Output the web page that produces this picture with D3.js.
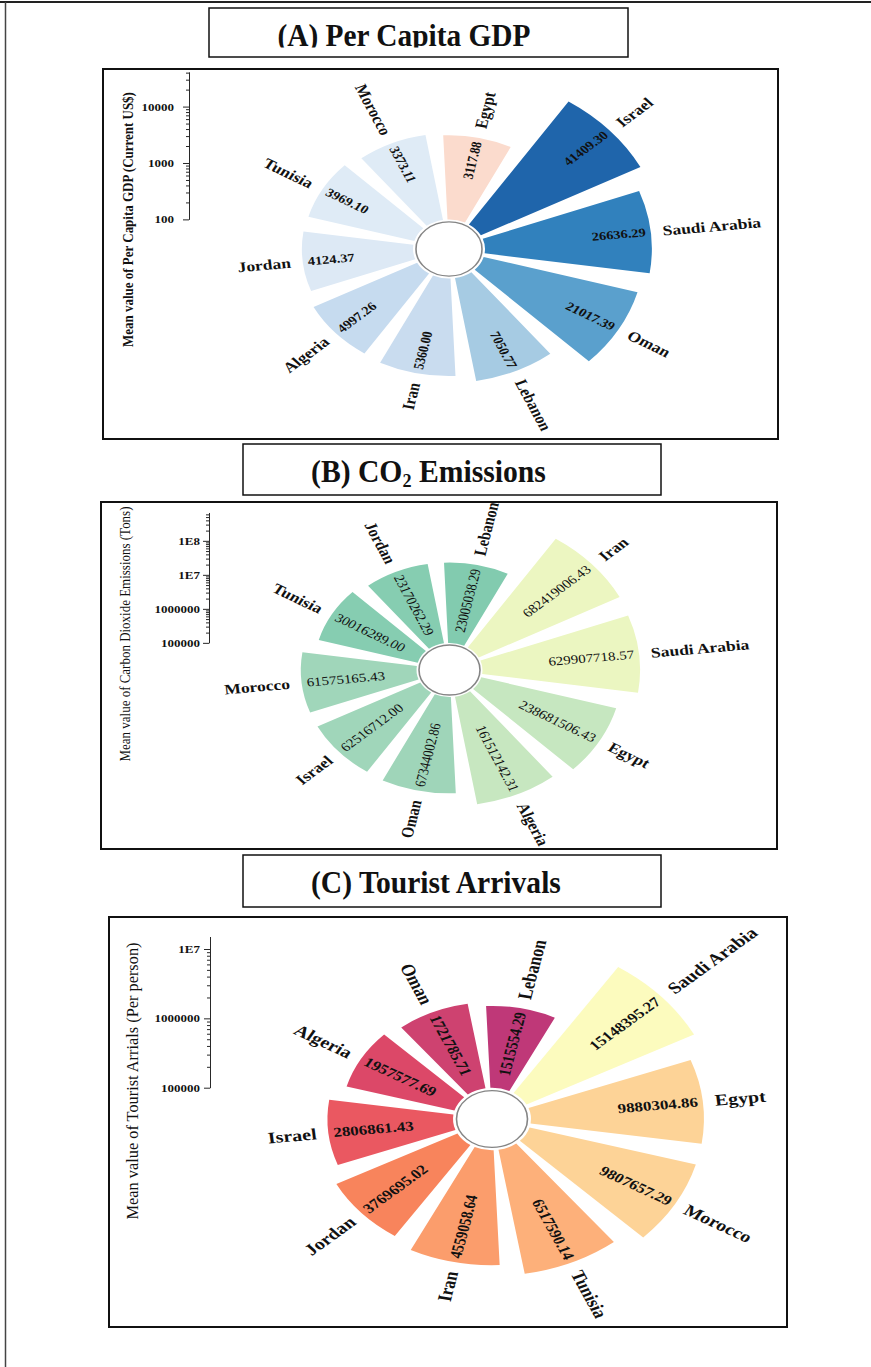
<!DOCTYPE html>
<html>
<head>
<meta charset="utf-8">
<script src="https://cdn.jsdelivr.net/npm/d3@7"></script>
<style>
  body { margin: 0; background: #fff; }
  svg { display: block; }
  text { font-family: "Liberation Serif", "Times New Roman", serif; fill: #111; }
</style>
</head>
<body>
<div id="chart"></div>
<script>
// ---- data ----
const gdpCountries = ["Israel", "Saudi Arabia", "Oman", "Lebanon", "Iran", "Algeria", "Jordan", "Tunisia", "Morocco", "Egypt"];
const gdpValues = [41409.30, 26636.29, 21017.39, 7050.77, 5360.00, 4997.26, 4124.37, 3969.10, 3373.11, 3117.88];
const gdpTicks = [100, 1000, 10000];
const gdpTickLabels = ["100", "1000", "10000"];

const co2Countries = ["Iran", "Saudi Arabia", "Egypt", "Algeria", "Oman", "Israel", "Morocco", "Tunisia", "Jordan", "Lebanon"];
const co2Values = [682419006.43, 629907718.57, 238681506.43, 161512142.31, 67344002.86, 62516712.00, 61575165.43, 30016289.00, 23170262.29, 23005038.29];
const co2Ticks = [1e5, 1e6, 1e7, 1e8];
const co2TickLabels = ["100000", "1000000", "1E7", "1E8"];

const touristCountries = ["Saudi Arabia", "Egypt", "Morocco", "Tunisia", "Iran", "Jordan", "Israel", "Algeria", "Oman", "Lebanon"];
const touristValues = [15148395.27, 9880304.86, 9807657.29, 6517590.14, 4559058.64, 3769695.02, 2806861.43, 1957577.69, 1721785.71, 1515554.29];
const touristTicks = [1e5, 1e6, 1e7];
const touristTickLabels = ["100000", "1000000", "1E7"];

// palettes, one colour per bar in the order above
const gdpColors = ["#1f65ab", "#3181bd", "#5aa0cd", "#a6cbe3", "#c9dcef", "#c6dbef", "#dde9f5", "#dfebf6", "#dfebf6", "#fbdbcd"];
const co2Colors = ["#ecf6c1", "#ebf6c1", "#c6e7c0", "#c7e7c0", "#9fd5b9", "#a0d6ba", "#a0d6ba", "#86cdb1", "#86cdb1", "#82cbaf"];
const touristColors = ["#fcfbbe", "#fdd397", "#fdd397", "#fdb07a", "#fb9d6c", "#f8845c", "#ea5861", "#dc4868", "#ce4270", "#bf3878"];

const W = 871, H = 1367;
const fmt = d3.format(".2f");

const svg = d3.select("#chart").append("svg")
    .attr("width", W)
    .attr("height", H);

// page frame (top + left rule)
svg.append("line").attr("x1", 0).attr("x2", W).attr("y1", 2).attr("y2", 2)
    .attr("stroke", "#222").attr("stroke-width", 2);
svg.append("line").attr("x1", 5.5).attr("x2", 5.5).attr("y1", 2).attr("y2", H)
    .attr("stroke", "#444").attr("stroke-width", 1.5);

// squeeze a text horizontally so it spans the wanted width
function fitText(sel, width) {
    let len = sel.node().getComputedTextLength();
    return width / len;
}

const panels = [
    {
        key: "A", title: ["(A) Per Capita GDP"],
        countries: gdpCountries, values: gdpValues, colors: gdpColors,
        ticks: gdpTicks, tickLabels: gdpTickLabels, axisMin: 100,
        yLabel: "Mean value of Per Capita GDP (Current US$)", yLabelWeight: "bold", yLabelSize: 14,
        cx: 449, cy: 249, sy: 0.82, inner: 36, outer: 216, hole: 33,
        axisX: 189, tickPad: 9,
        yLabelX: 128, yLabelY: 219.5, yLabelLen: 255,
        titleBox: [209, 8, 419, 49], titleX: 277.5, titleY: 46, titleW: 253, titleClip: 47.5,
        box: [103, 69, 675, 370],
        labelSize: 17.5, valueSize: 14.5, valueWeight: "bold"
    },
    {
        key: "B", title: ["(B) CO", "2", " Emissions"],
        countries: co2Countries, values: co2Values, colors: co2Colors,
        ticks: co2Ticks, tickLabels: co2TickLabels, axisMin: 1e5,
        yLabel: "Mean value of Carbon Dioxide Emissions (Tons)", yLabelWeight: "normal", yLabelSize: 15,
        cx: 449.5, cy: 670, sy: 0.82, inner: 33, outer: 192, hole: 30.5,
        axisX: 209, tickPad: 3,
        yLabelX: 125, yLabelY: 634, yLabelLen: 255,
        titleBox: [243, 444, 418, 51], titleX: 311, titleY: 482, titleW: 235, titleClip: null,
        box: [101, 502, 676, 347],
        labelSize: 17.5, valueSize: 15, valueWeight: "normal"
    },
    {
        key: "C", title: ["(C) Tourist Arrivals"],
        countries: touristCountries, values: touristValues, colors: touristColors,
        ticks: touristTicks, tickLabels: touristTickLabels, axisMin: 1e5,
        yLabel: "Mean value of Tourist Arrials (Per person)", yLabelWeight: "normal", yLabelSize: 17,
        cx: 492, cy: 1119, sy: 0.8, inner: 39, outer: 228, hole: 35.5,
        axisX: 210, tickPad: 4,
        yLabelX: 133, yLabelY: 1081, yLabelLen: 277,
        titleBox: [243, 855, 418, 52], titleX: 311, titleY: 893, titleW: 250, titleClip: null,
        box: [109, 917, 678, 410],
        labelSize: 20, valueSize: 17, valueWeight: "bold"
    }
];

panels.forEach(p => drawPanel(p));

function drawPanel(p) {

    // title box
    svg.append("rect")
        .attr("x", p.titleBox[0]).attr("y", p.titleBox[1])
        .attr("width", p.titleBox[2]).attr("height", p.titleBox[3])
        .attr("fill", "none").attr("stroke", "#111").attr("stroke-width", 1.5);

    let titleG = svg.append("g");
    if (p.titleClip) {
        svg.append("clipPath").attr("id", "clip" + p.key)
            .append("rect").attr("x", 0).attr("y", 0).attr("width", W).attr("height", p.titleClip);
        titleG.attr("clip-path", `url(#clip${p.key})`);
    }
    let title = titleG.append("text")
        .attr("font-size", 31)
        .attr("font-weight", "bold");
    title.append("tspan").text(p.title[0]);
    if (p.title.length > 1) {
        title.append("tspan").attr("font-size", 19).attr("dy", 5).text(p.title[1]);
        title.append("tspan").attr("dy", -5).text(p.title[2]);
    }
    let k = fitText(title, p.titleW);
    title.attr("transform", `translate(${p.titleX},${p.titleY}) scale(${k},1)`);

    // panel box
    svg.append("rect")
        .attr("x", p.box[0]).attr("y", p.box[1])
        .attr("width", p.box[2]).attr("height", p.box[3])
        .attr("fill", "none").attr("stroke", "#111").attr("stroke-width", 2);

    // chart group: the figure is stretched, so flatten it vertically
    let g = svg.append("g")
        .attr("transform", `translate(${p.cx},${p.cy}) scale(1,${p.sy})`);

    let data = p.countries.map((c, i) => ({country: c, value: p.values[i], color: p.colors[i]}));

    let angle = d3.scaleBand()
        .domain(p.countries)
        .range([30 * Math.PI / 180, 390 * Math.PI / 180])
        .paddingInner(0.2)
        .paddingOuter(0.1);

    let radius = d3.scaleLog()
        .domain([p.axisMin, d3.max(p.values)])
        .range([p.inner, p.outer]);

    let arc = d3.arc()
        .innerRadius(p.inner)
        .outerRadius(d => radius(d.value))
        .startAngle(d => angle(d.country))
        .endAngle(d => angle(d.country) + angle.bandwidth());

    g.selectAll(".bar")
        .data(data)
        .enter()
        .append("path")
        .attr("class", "bar")
        .attr("d", arc)
        .attr("fill", d => d.color);

    // centre hole
    g.append("circle")
        .attr("r", p.hole)
        .attr("fill", "#fff")
        .attr("stroke", "#858585")
        .attr("stroke-width", 1.6);

    function mid(d) {
        let a = angle(d.country) + angle.bandwidth() / 2;
        return (a * 180 / Math.PI) % 360;
    }

    // value labels, inside the bar end
    g.selectAll(".val")
        .data(data)
        .enter()
        .append("text")
        .attr("class", "val")
        .attr("font-size", p.valueSize)
        .attr("font-weight", p.valueWeight)
        .attr("dy", "0.35em")
        .attr("text-anchor", d => mid(d) > 180 ? "start" : "end")
        .attr("transform", d => {
            let a = mid(d), r = radius(d.value) - 5;
            let x = r * Math.sin(a * Math.PI / 180), y = -r * Math.cos(a * Math.PI / 180);
            let rot = a > 180 ? a + 90 : a - 90;
            return `translate(${x},${y}) rotate(${rot})`;
        })
        .text(d => fmt(d.value));

    // country labels, outside the bar end
    g.selectAll(".lab")
        .data(data)
        .enter()
        .append("text")
        .attr("class", "lab")
        .attr("font-size", p.labelSize)
        .attr("font-weight", "bold")
        .attr("dy", "0.35em")
        .attr("text-anchor", d => mid(d) > 180 ? "end" : "start")
        .attr("transform", d => {
            let a = mid(d), r = radius(d.value) + 12;
            let x = r * Math.sin(a * Math.PI / 180), y = -r * Math.cos(a * Math.PI / 180);
            let rot = a > 180 ? a + 90 : a - 90;
            return `translate(${x},${y}) rotate(${rot})`;
        })
        .text(d => d.country);

    // radial axis drawn upright at the left
    let axisScale = d3.scaleLog()
        .domain(radius.domain())
        .range([-p.inner, -p.outer]);

    let minors = [];
    for (let dec = p.axisMin; dec <= d3.max(p.values); dec *= 10) {
        for (let m = 2; m <= 9; m++) {
            if (dec * m <= d3.max(p.values)) minors.push(dec * m);
        }
    }

    let axG = g.append("g")
        .attr("transform", `translate(${p.axisX - p.cx},0)`);

    axG.append("g")
        .call(d3.axisLeft(axisScale).tickValues(minors).tickSize(3).tickSizeOuter(0).tickFormat(""))
        .call(s => s.select(".domain").remove());

    axG.append("g")
        .call(d3.axisLeft(axisScale)
            .tickValues(p.ticks)
            .tickFormat((d, i) => p.tickLabels[i])
            .tickSize(6)
            .tickSizeOuter(0)
            .tickPadding(p.tickPad))
        .call(s => s.selectAll("text")
            .attr("font-family", "Liberation Serif, Times New Roman, serif")
            .attr("font-size", 13)
            .attr("font-weight", "bold")
            .attr("fill", "#111"));

    axG.selectAll("line, path").attr("stroke", "#111");

    // axis title
    let yl = g.append("text")
        .attr("font-size", p.yLabelSize)
        .attr("font-weight", p.yLabelWeight)
        .attr("text-anchor", "middle")
        .text(p.yLabel);
    let ky = fitText(yl, p.yLabelLen / p.sy);
    yl.attr("transform",
        `translate(${p.yLabelX - p.cx},${(p.yLabelY - p.cy) / p.sy}) rotate(-90) scale(${ky},1) translate(0,5)`);
}
</script>
</body>
</html>
